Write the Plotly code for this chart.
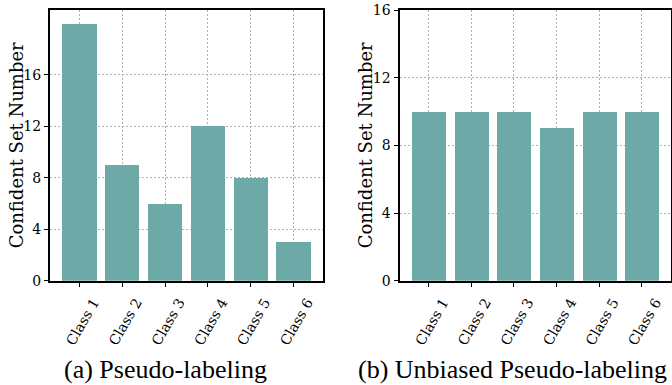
import plotly.graph_objects as go

categories = ["Class 1", "Class 2", "Class 3", "Class 4", "Class 5", "Class 6"]
pseudo_values = [20, 9, 6, 12, 8, 3]
unbiased_values = [10, 10, 10, 9, 10, 10]
y_ticks = [0, 4, 8, 12, 16]
captions = ["(a) Pseudo-labeling", "(b) Unbiased Pseudo-labeling"]
y_title = "Confident Set Number"

W, H = 672, 385
BAR = "#6DAAA7"
TICKFONT = dict(family="DejaVu Serif", size=14, color="black")

fig = go.Figure()
fig.add_trace(go.Bar(x=list(range(6)), y=pseudo_values, width=0.8,
                     marker=dict(color=BAR, line=dict(width=0)),
                     xaxis="x", yaxis="y", showlegend=False))
fig.add_trace(go.Bar(x=list(range(6)), y=unbiased_values, width=0.8,
                     marker=dict(color=BAR, line=dict(width=0)),
                     xaxis="x2", yaxis="y2", showlegend=False))

ydom = [1 - 280.7 / H, 1 - 10 / H]
xdom1 = [50 / W, 323 / W]
xdom2 = [399.5 / W, 671 / W]

def xax(dom, anchor):
    return dict(domain=dom, anchor=anchor, range=[-0.69, 5.69],
                tickmode="array", tickvals=list(range(6)), ticktext=categories,
                tickangle=-60, tickfont=TICKFONT, ticks="outside", ticklen=4,
                tickwidth=1, tickcolor="black",
                ticklabelshift=14, ticklabelstandoff=2, automargin=False,
                showline=True, linecolor="black", linewidth=2, mirror=True,
                showgrid=True, gridcolor="#b0b0b0", gridwidth=1,
                griddash="2px,2px", zeroline=False, layer="above traces")

def yax(dom, anchor, rng):
    return dict(domain=dom, anchor=anchor, range=rng, automargin=False,
                tickmode="array", tickvals=y_ticks,
                tickfont=TICKFONT, ticks="outside", ticklen=4,
                tickwidth=1, tickcolor="black",
                showline=True, linecolor="black", linewidth=2, mirror=True,
                showgrid=True, gridcolor="#b0b0b0", gridwidth=1,
                griddash="2px,2px", zeroline=False, layer="above traces")

fig.update_layout(
    width=W, height=H,
    margin=dict(l=0, r=0, t=0, b=0, autoexpand=False),
    paper_bgcolor="white", plot_bgcolor="white",
    bargap=0,
    xaxis=xax(xdom1, "y"),
    yaxis=yax(ydom, "x", [0, 21.05]),
    xaxis2=xax(xdom2, "y2"),
    yaxis2=yax(ydom, "x2", [0, 16]),
)

ymid = (ydom[0] + ydom[1]) / 2
for xpx in [16, 365]:
    fig.add_annotation(text=y_title, xref="paper", yref="paper",
                       x=xpx / W, y=ymid, textangle=-90, showarrow=False,
                       font=dict(family="DejaVu Serif", size=18, color="black"),
                       xanchor="center", yanchor="middle")

for cx, cap in zip([165.5 / W, 512.5 / W], captions):
    fig.add_annotation(text=cap, xref="paper", yref="paper",
                       x=cx, y=1 - 369 / H, showarrow=False,
                       font=dict(family="Liberation Serif", size=26, color="black"),
                       xanchor="center", yanchor="middle")

fig.write_html("out.html", config={"displayModeBar": False},
               post_script="document.body.style.margin='0';document.body.style.overflow='hidden';")
